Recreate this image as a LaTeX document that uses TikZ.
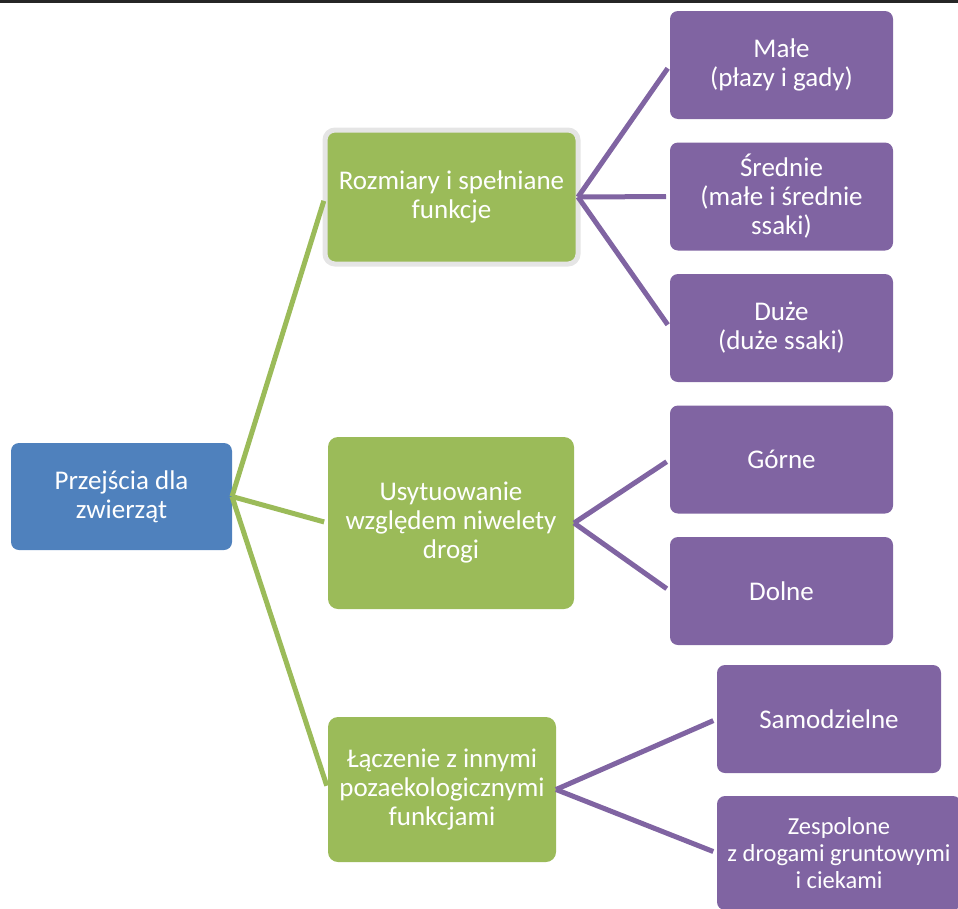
\documentclass[tikz,border=0pt]{standalone}
\usepackage{fontspec}
\setmainfont{Carlito}
\usepackage{tikz}
\usetikzlibrary{positioning}
\definecolor{rootblue}{HTML}{4F81BD}
\definecolor{leafgreen}{HTML}{9BBB59}
\definecolor{leafviolet}{HTML}{8064A2}

\begin{document}
\begin{tikzpicture}[x=1pt,y=-1pt,auto,node distance=23.5pt,line width=5pt,shorten >=4pt]
 \tikzstyle{every node}=[text=white, align=center, inner sep=2pt, outer sep=0pt, font=\fontsize{27}{29}\selectfont]
 \tikzstyle{topic}=[fill=rootblue, rounded corners=8pt, minimum width=221pt, minimum height=107pt]
 \tikzstyle{group}=[fill=leafgreen, rounded corners=10pt]
 \tikzstyle{kind}=[fill=leafviolet, rounded corners=8pt, minimum width=223pt, minimum height=108pt]
 \useasboundingbox (0,0) rectangle (958,908);
 \draw[black!85, line width=3pt, shorten >=0pt] (0,1) -- (958,1);
  \node[topic] (R) at (121.5,496.5) {Przejścia dla\\zwierząt};
  \node[group, draw=black!10, line width=5pt, minimum width=253pt, minimum height=134pt] (G1) at (451.5,197) {Rozmiary i spełniane\\funkcje};
  \node[group, minimum width=246pt, minimum height=172pt] (G2) at (451,523) {Usytuowanie\\względem niwelety\\drogi};
  \node[group, minimum width=228pt, minimum height=145pt] (G3) at (442,789.5) {Łączenie z innymi\\pozaekologicznymi\\funkcjami};
  \node[kind] (K1) at (781.5,65) {Małe\\(płazy i gady)};
  \node[kind, below=of K1] (K2) {Średnie\\(małe i średnie\\ssaki)};
  \node[kind, below=of K2] (K3) {Duże\\(duże ssaki)};
  \node[kind, below=of K3] (K4) {Górne};
  \node[kind, below=of K4] (K5) {Dolne};
  \node[kind, minimum width=224pt] (K6) at (829,719) {Samodzielne};
  \node[kind, minimum width=244pt, minimum height=114pt, font=\fontsize{24.5}{27}\selectfont] (K7) at (839,853) {Zespolone\\z drogami gruntowymi\\i ciekami};
\path[leafgreen] (R.east) edge (G1.west)
                  edge (G2.west)
                  edge (G3.west);
\path[leafviolet] (G1.east) edge (K1.west)
                   edge (K2.west)
                   edge (K3.west)
         (G2.east) edge (K4.west)
                   edge (K5.west)
         (G3.east) edge (K6.west)
                   edge (K7.west);
\end{tikzpicture}
\end{document}
